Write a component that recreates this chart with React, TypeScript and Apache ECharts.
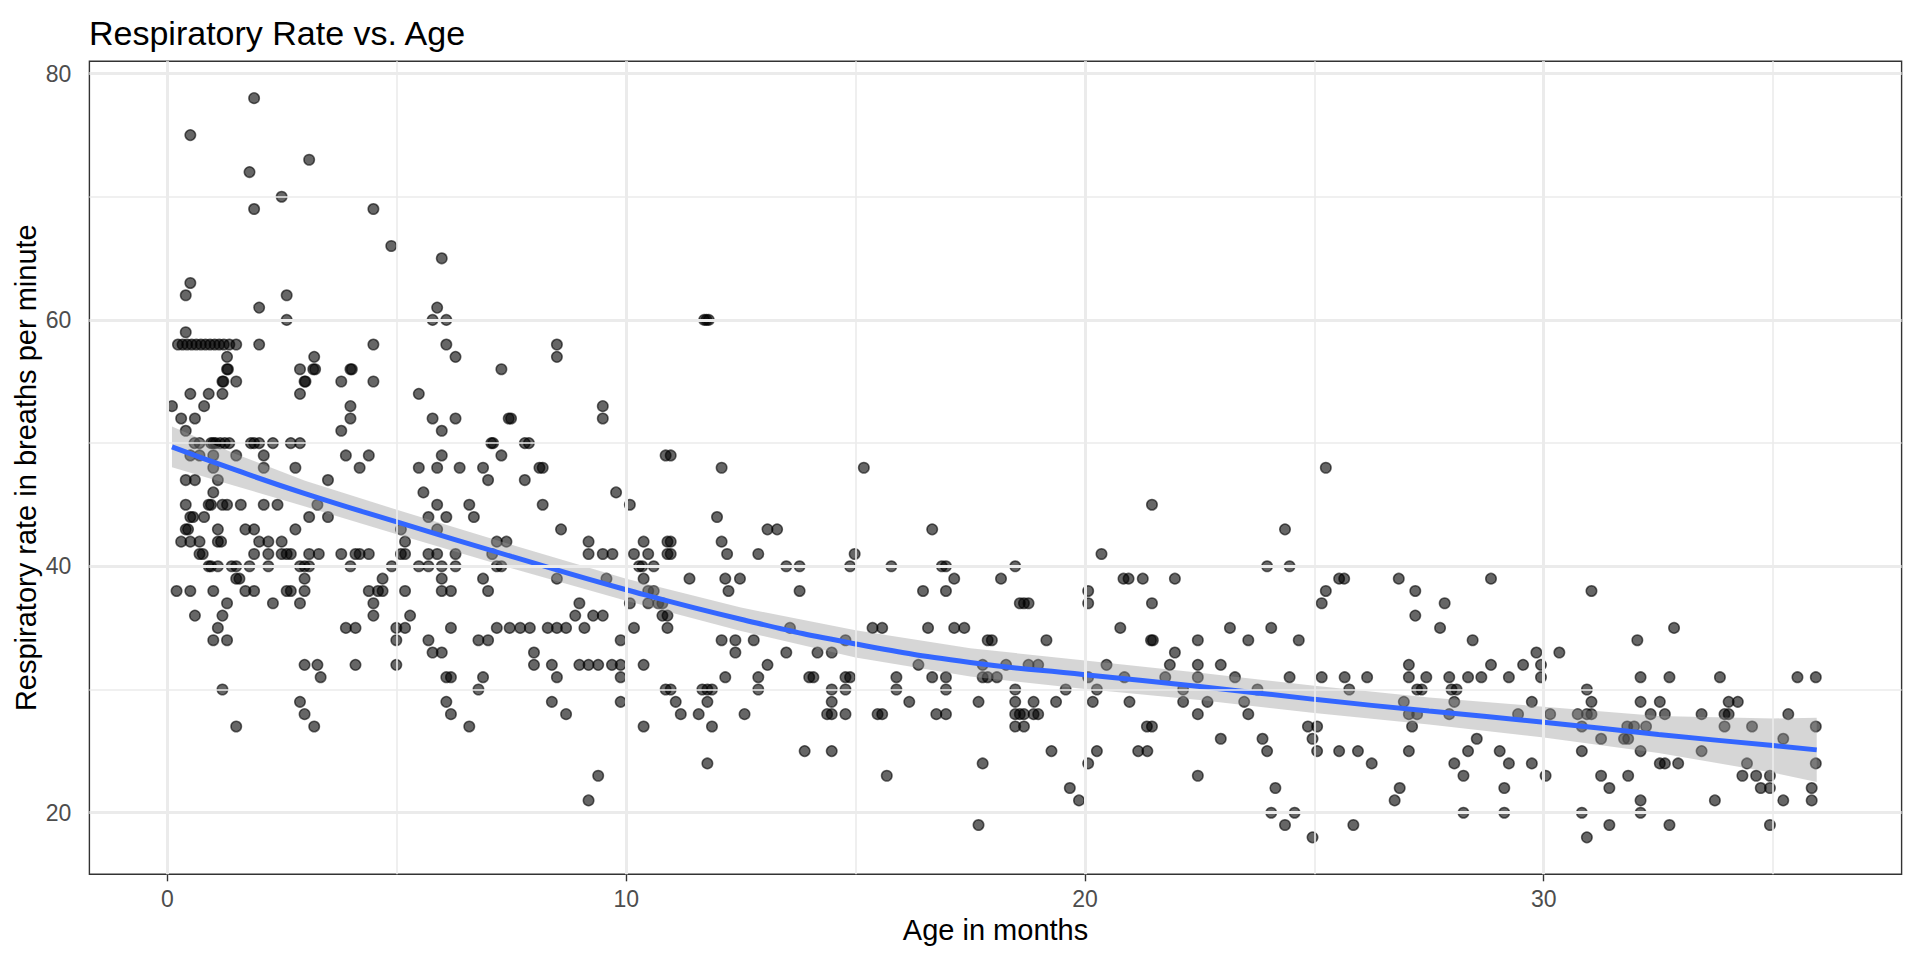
import React, { useEffect, useRef } from "react";
import * as echarts from "echarts";

// Respiratory rate (breaths/min) -> ages (months), grouped by age band
const ratesAgeBand0to3: Array<[number, number[]]> = [
  [78, [1.89]],
  [75, [0.5]],
  [73, [3.09]],
  [72, [1.79]],
  [70, [2.49]],
  [69, [1.89]],
  [63, [0.5]],
  [62, [0.4, 2.6]],
  [61, [2.0]],
  [60, [2.6]],
  [59, [0.4]],
  [58, [0.23, 0.33, 0.43, 0.53, 0.63, 0.73, 0.83, 0.93, 1.03, 1.13, 1.23, 1.35, 1.5, 2.0]],
  [57, [1.3, 3.2]],
  [56, [1.3, 1.32, 2.89, 3.18, 3.22]],
  [55, [1.2, 1.22, 1.5, 2.99, 3.01]],
  [54, [0.5, 0.9, 1.2, 2.89]],
  [53, [0.1, 0.8]],
  [52, [0.3, 0.6]],
  [51, [0.4]],
  [50, [0.59, 0.7, 0.95, 1.0, 1.05, 1.15, 1.25, 1.35, 1.82, 1.89, 2.0, 2.3, 2.69, 2.89]],
  [49, [0.5, 0.7, 1.0, 1.5, 2.1]],
  [48, [1.0, 2.1, 2.79]],
  [47, [0.4, 0.6, 1.1]],
  [46, [1.0]],
  [45, [0.4, 0.9, 0.95, 1.2, 1.3, 1.6, 2.1, 2.4, 3.27]],
  [44, [0.5, 0.56, 0.8, 3.09]],
  [43, [0.4, 0.45, 1.1, 1.7, 1.89, 2.79]],
  [42, [0.3, 0.5, 0.7, 1.1, 1.17, 2.0, 2.2, 2.49]],
  [41, [0.7, 0.77, 1.89, 2.2, 2.49, 2.6, 2.69, 3.09, 3.3]],
  [40, [0.9, 0.95, 1.1, 1.4, 1.5, 1.79, 2.2, 2.89, 2.99, 3.09]],
  [39, [1.5, 1.57, 2.99]],
  [38, [0.2, 0.5, 1.0, 1.7, 1.89, 2.6, 2.69, 2.99]],
  [37, [1.3, 2.3, 2.89]],
  [36, [0.6, 1.2]],
  [35, [1.1]],
  [34, [1.0, 1.3]],
  [32, [2.99, 3.27]],
  [31, [3.34]],
  [30, [1.2]],
  [29, [2.89]],
  [28, [2.99]],
  [27, [1.5, 3.2]],
];

const ratesAgeBand3to7: Array<[number, number[]]> = [
  [69, [4.49]],
  [66, [4.88]],
  [65, [5.98]],
  [61, [5.88]],
  [60, [5.78, 6.08]],
  [58, [4.49, 6.08]],
  [57, [6.28]],
  [56, [3.99, 4.02, 7.28]],
  [55, [3.79, 4.49]],
  [54, [5.48]],
  [53, [3.99]],
  [52, [3.99, 5.78, 6.28, 7.44, 7.49]],
  [51, [3.79, 5.98]],
  [50, [7.06, 7.1]],
  [49, [3.89, 4.39, 5.98, 7.28]],
  [48, [4.19, 5.48, 5.88, 6.37, 6.88]],
  [47, [3.5, 6.99]],
  [46, [5.58]],
  [45, [5.88, 6.58]],
  [44, [3.5, 5.69, 6.08, 6.68]],
  [43, [5.09, 5.88]],
  [42, [5.18, 7.18, 7.39]],
  [41, [3.79, 4.1, 4.19, 4.39, 5.09, 5.18, 5.69, 5.88, 6.28, 7.08]],
  [40, [3.99, 4.89, 5.48, 5.69, 5.98, 6.28, 7.18, 7.28]],
  [39, [4.69, 5.98, 6.88]],
  [38, [4.39, 4.59, 4.69, 5.18, 5.98, 6.18, 6.99]],
  [37, [4.49]],
  [36, [4.49, 5.29]],
  [35, [3.89, 4.1, 4.99, 5.18, 6.18, 7.18, 7.46]],
  [34, [4.99, 5.69, 6.78, 6.99]],
  [33, [5.78, 5.98]],
  [32, [4.1, 4.99]],
  [31, [6.08, 6.18, 6.88]],
  [30, [6.78]],
  [29, [6.08]],
  [28, [6.18]],
  [27, [6.58]],
];

const ratesAgeBand7to12: Array<[number, number[]]> = [
  [60, [11.7, 11.75, 11.8]],
  [58, [8.49]],
  [57, [8.49]],
  [53, [9.49]],
  [52, [9.49]],
  [50, [7.79, 7.88]],
  [49, [10.86, 10.97]],
  [48, [8.11, 8.18, 12.08]],
  [47, [7.79]],
  [46, [9.78]],
  [45, [8.18, 10.08]],
  [44, [11.98]],
  [43, [8.58]],
  [42, [9.18, 10.38, 10.9, 10.97, 12.08]],
  [41, [9.18, 9.49, 9.7, 10.17, 10.48, 10.9, 10.97, 12.2]],
  [40, [10.28, 10.35, 10.6]],
  [39, [8.49, 9.57, 10.38, 11.38, 12.16, 12.48]],
  [38, [10.48, 10.6, 12.23]],
  [37, [8.98, 10.08, 10.48, 10.7, 10.79]],
  [36, [8.89, 9.28, 9.49, 10.79, 10.9]],
  [35, [7.69, 7.9, 8.29, 8.49, 8.69, 9.09, 10.17, 10.9]],
  [34, [9.88, 12.08, 12.38]],
  [33, [7.99, 12.38]],
  [32, [7.99, 8.38, 8.98, 9.18, 9.39, 9.69, 9.88, 10.38]],
  [31, [8.49, 9.88, 12.16]],
  [30, [10.86, 10.97, 11.66, 11.77, 11.87]],
  [29, [8.38, 9.88, 11.08, 11.77]],
  [28, [8.69, 11.19, 11.58]],
  [27, [10.38, 11.87]],
  [24, [11.77]],
  [23, [9.39]],
  [21, [9.18]],
];

const ratesAgeBand12to17: Array<[number, number[]]> = [
  [48, [15.18]],
  [43, [13.08, 13.29, 16.67]],
  [41, [12.88, 14.98]],
  [40, [13.49, 13.78, 14.88, 15.78, 16.88, 16.97]],
  [39, [17.15]],
  [38, [13.78, 16.47, 16.97]],
  [35, [13.57, 15.37, 15.58, 16.58, 17.15]],
  [34, [12.78, 14.78]],
  [33, [13.49, 14.17, 14.48]],
  [32, [13.08, 16.37]],
  [31, [12.88, 13.99, 14.08, 14.78, 14.88, 15.89, 16.67, 16.97]],
  [30, [12.88, 14.48, 14.78, 15.89, 16.97]],
  [29, [14.48, 16.17]],
  [28, [12.58, 14.38, 14.48, 14.78, 15.48, 15.58, 16.76, 16.97]],
  [25, [13.89, 14.48]],
  [23, [15.68]],
];

const ratesAgeBand17to22: Array<[number, number[]]> = [
  [45, [21.46]],
  [41, [20.36]],
  [40, [18.48]],
  [39, [18.17, 20.84, 20.95, 21.26, 21.96]],
  [38, [20.07]],
  [37, [18.58, 18.67, 18.77, 20.07, 21.46]],
  [35, [17.37, 20.77]],
  [34, [17.88, 17.97, 19.16, 21.44, 21.48]],
  [33, [21.96]],
  [32, [17.77, 18.28, 18.77, 18.98, 20.47, 21.85]],
  [31, [17.77, 17.88, 18.08, 20.07, 20.86, 21.75]],
  [30, [18.48, 19.58, 20.26, 22.14]],
  [29, [17.68, 18.48, 18.88, 19.37, 20.17, 20.97, 22.14]],
  [28, [18.48, 18.58, 18.67, 18.88, 18.98]],
  [27, [18.48, 18.67, 21.35, 21.46]],
  [25, [19.27, 20.26, 21.16, 21.36]],
  [24, [17.77, 20.07]],
  [22, [19.67]],
  [21, [19.87]],
  [19, [17.68]],
];

const ratesAgeBand22to27: Array<[number, number[]]> = [
  [48, [25.25]],
  [43, [24.36]],
  [40, [23.97, 24.46]],
  [39, [25.54, 25.65, 26.84]],
  [38, [25.25, 27.2]],
  [37, [25.16]],
  [36, [27.2]],
  [35, [23.16, 24.06]],
  [34, [22.46, 23.56, 24.66]],
  [32, [22.46, 22.96, 27.06]],
  [31, [22.46, 23.27, 24.46, 25.16, 25.66, 26.15, 27.06]],
  [30, [23.76, 25.76]],
  [29, [22.67, 23.47, 26.95]],
  [28, [22.46, 23.56, 27.06]],
  [27, [24.86, 25.06, 27.13]],
  [26, [22.96, 23.87, 24.96]],
  [25, [23.97, 25.06, 25.54, 25.95, 27.06]],
  [24, [26.25]],
  [23, [22.46]],
  [22, [24.15, 26.86]],
  [21, [26.75]],
  [20, [24.06, 24.57]],
  [19, [24.36, 25.85]],
  [18, [24.96]],
];

const ratesAgeBand27to32: Array<[number, number[]]> = [
  [39, [28.85]],
  [38, [31.04]],
  [37, [27.84]],
  [35, [27.74]],
  [34, [28.45, 32.04]],
  [33, [29.84, 30.34]],
  [32, [28.85, 29.55, 29.94]],
  [31, [27.44, 27.94, 28.35, 28.64, 29.24, 29.94, 32.11]],
  [30, [27.24, 27.34, 27.99, 28.1, 30.94]],
  [29, [28.05, 29.74, 31.04, 32.11]],
  [28, [27.24, 27.94, 29.44, 30.14, 30.74, 30.94, 31.04]],
  [27, [30.83, 31.82, 31.97]],
  [26, [28.54, 31.25, 31.75, 31.84]],
  [25, [28.35, 29.04, 30.83, 32.11]],
  [24, [28.05, 29.24, 29.74]],
  [23, [28.25, 30.04, 31.25, 31.84]],
  [22, [29.14, 31.43]],
  [21, [32.11]],
  [20, [28.25, 29.14, 30.83, 32.11]],
  [19, [31.43]],
  [18, [30.94]],
];

const ratesAgeBand32to36: Array<[number, number[]]> = [
  [35, [32.84]],
  [31, [32.74, 33.84, 35.53, 35.93]],
  [29, [32.53, 34.03, 34.23]],
  [28, [32.33, 32.64, 33.44, 33.94, 34.03, 35.33]],
  [27, [32.23, 33.94, 34.54, 35.93]],
  [26, [35.22]],
  [25, [33.44]],
  [24, [32.53, 32.64, 32.93, 34.43, 35.93]],
  [23, [34.33, 34.63, 34.93]],
  [22, [34.73, 34.93, 35.84]],
  [21, [33.73, 35.22, 35.84]],
  [19, [32.74, 34.93]],
];

// LOESS fit and its confidence band
const fitAge = [0.1, 1.5, 3, 5, 7.5, 10, 12.5, 15, 17.5, 20, 22.5, 25, 27.5, 30, 32.5, 35, 35.95];
const fitRate = [49.7, 47.8, 45.9, 43.6, 40.8, 38.1, 35.7, 33.7, 32.2, 31.2, 30.25, 29.2, 28.25, 27.35, 26.35, 25.45, 25.1];
const fitHalfWidth = [1.65, 1.3, 1.05, 1.0, 0.95, 0.9, 0.95, 1.1, 1.15, 1.15, 1.1, 1.1, 1.1, 1.25, 1.5, 2.2, 2.6];

// Axis ticks and grid breaks
const xMajorTicks = [0, 10, 20, 30];
const xMinorBreaks = [5, 15, 25, 35];
const yMajorTicks = [20, 40, 60, 80];
const yMinorBreaks = [30, 50, 70];

const titleText = "Respiratory Rate vs. Age";
const xTitle = "Age in months";
const yTitle = "Respiratory rate in breaths per minute";

const FONT = "'Liberation Sans', Arial, Helvetica, sans-serif";

function flatten(rows: Array<[number, number[]]>): number[][] {
  const out: number[][] = [];
  rows.forEach(([rate, ages]) => ages.forEach((a) => out.push([a, rate])));
  return out;
}

export default function App() {
  const ref = useRef<HTMLDivElement>(null);

  useEffect(() => {
    if (!ref.current) return;
    const chart = echarts.init(ref.current, null, { renderer: "svg" });

    const points = [
      ...flatten(ratesAgeBand0to3),
      ...flatten(ratesAgeBand3to7),
      ...flatten(ratesAgeBand7to12),
      ...flatten(ratesAgeBand12to17),
      ...flatten(ratesAgeBand17to22),
      ...flatten(ratesAgeBand22to27),
      ...flatten(ratesAgeBand27to32),
      ...flatten(ratesAgeBand32to36),
    ];

    const fitData = fitAge.map((a, i) => [a, fitRate[i]]);

    const gridLineColor = "#EBEBEB";
    const majorLines = [
      ...xMajorTicks.map((v) => ({ xAxis: v })),
      ...yMajorTicks.map((v) => ({ yAxis: v })),
    ];
    const minorLines = [
      ...xMinorBreaks.map((v) => ({ xAxis: v })),
      ...yMinorBreaks.map((v) => ({ yAxis: v })),
    ];

    const option: any = {
      animation: false,
      backgroundColor: "#FFFFFF",
      grid: {
        left: 89.4,
        right: 18.4,
        top: 61.2,
        bottom: 85.7,
        show: true,
        backgroundColor: "#FFFFFF",
        borderColor: "#333333",
        borderWidth: 1.4,
      },
      xAxis: {
        type: "value",
        min: -1.7,
        max: 37.8,
        splitNumber: 4,
        axisLine: { show: false },
        splitLine: { show: false },
        axisTick: {
          show: true,
          length: 7,
          customValues: xMajorTicks,
          lineStyle: { color: "#333333", width: 1.4 },
        },
        axisLabel: {
          customValues: xMajorTicks,
          margin: 13,
          color: "#4D4D4D",
          fontSize: 23,
          fontFamily: FONT,
          formatter: (v: number) => (xMajorTicks.indexOf(v) >= 0 ? String(v) : ""),
        },
      },
      yAxis: {
        type: "value",
        min: 15,
        max: 81,
        splitNumber: 3,
        axisLine: { show: false },
        splitLine: { show: false },
        axisTick: {
          show: true,
          length: 7,
          customValues: yMajorTicks,
          lineStyle: { color: "#333333", width: 1.4 },
        },
        axisLabel: {
          customValues: yMajorTicks,
          margin: 18,
          color: "#4D4D4D",
          fontSize: 23,
          fontFamily: FONT,
          formatter: (v: number) => (yMajorTicks.indexOf(v) >= 0 ? String(v) : ""),
        },
      },
      graphic: [
        {
          type: "text",
          x: 89,
          y: 33,
          style: {
            text: titleText,
            fill: "#000000",
            fontSize: 34,
            fontFamily: FONT,
            align: "left",
            verticalAlign: "middle",
          },
        },
        {
          type: "text",
          x: 995.5,
          y: 930,
          style: {
            text: xTitle,
            fill: "#000000",
            fontSize: 29,
            fontFamily: FONT,
            align: "center",
            verticalAlign: "middle",
          },
        },
        {
          type: "text",
          x: 26,
          y: 467.7,
          rotation: Math.PI / 2,
          style: {
            text: yTitle,
            fill: "#000000",
            fontSize: 29,
            fontFamily: FONT,
            align: "center",
            verticalAlign: "middle",
          },
        },
      ],
      series: [
        {
          name: "minorGrid",
          type: "line",
          data: [],
          z: 0,
          silent: true,
          markLine: {
            silent: true,
            symbol: ["none", "none"],
            label: { show: false },
            emphasis: { disabled: true },
            animation: false,
            lineStyle: { color: gridLineColor, width: 1.6, type: "solid" },
            data: minorLines,
          },
        },
        {
          name: "majorGrid",
          type: "line",
          data: [],
          z: 0,
          silent: true,
          markLine: {
            silent: true,
            symbol: ["none", "none"],
            label: { show: false },
            emphasis: { disabled: true },
            animation: false,
            lineStyle: { color: gridLineColor, width: 3, type: "solid" },
            data: majorLines,
          },
        },
        {
          name: "points",
          type: "scatter",
          data: points,
          z: 2,
          symbol: "circle",
          symbolSize: 10.5,
          silent: true,
          itemStyle: {
            color: "rgba(0,0,0,0.75)",
            borderColor: "rgba(0,0,0,0.75)",
            borderWidth: 1.5,
          },
          emphasis: { disabled: true },
        },
        {
          name: "band",
          type: "custom",
          data: fitData,
          z: 3,
          silent: true,
          renderItem: (params: any, api: any) => {
            if (params.dataIndex !== 0) return null;
            const pts: number[][] = [];
            for (let i = 0; i < fitAge.length; i++) {
              pts.push(api.coord([fitAge[i], fitRate[i] + fitHalfWidth[i]]));
            }
            for (let i = fitAge.length - 1; i >= 0; i--) {
              pts.push(api.coord([fitAge[i], fitRate[i] - fitHalfWidth[i]]));
            }
            return {
              type: "polygon",
              shape: { points: pts },
              style: { fill: "rgba(153,153,153,0.4)", stroke: "none" },
            };
          },
        },
        {
          name: "fit",
          type: "line",
          data: fitData,
          z: 4,
          silent: true,
          showSymbol: false,
          smooth: 0.5,
          lineStyle: { color: "#3366FF", width: 5 },
          emphasis: { disabled: true },
        },
      ],
    };

    chart.setOption(option);
    return () => chart.dispose();
  }, []);

  return (
    <div
      ref={ref}
      style={{ position: "fixed", left: 0, top: 0, width: "1920px", height: "960px", background: "#FFFFFF" }}
    />
  );
}
